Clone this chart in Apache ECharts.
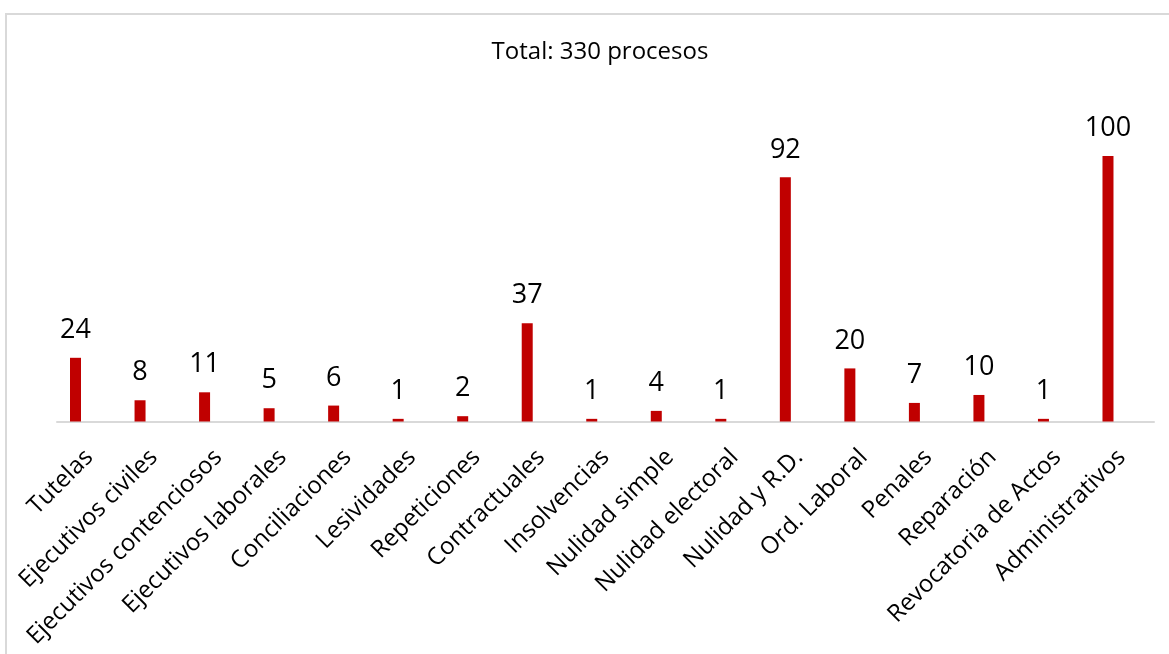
<!DOCTYPE html>
<html>
<head>
<meta charset="utf-8">
<script src="https://cdn.jsdelivr.net/npm/echarts@6/dist/echarts.min.js"></script>
<style>
  html, body { margin: 0; padding: 0; background: #ffffff; }
  #chart { width: 1169px; height: 654px; }
</style>
</head>
<body>
<div id="chart"></div>
<script>
// Procesos por tipo
const categories = [
  'Tutelas', 'Ejecutivos civiles', 'Ejecutivos contenciosos', 'Ejecutivos laborales',
  'Conciliaciones', 'Lesividades', 'Repeticiones', 'Contractuales', 'Insolvencias',
  'Nulidad simple', 'Nulidad electoral', 'Nulidad y R.D.', 'Ord. Laboral', 'Penales',
  'Reparación', 'Revocatoria de Actos', 'Administrativos'
];
const procesos = [24, 8, 11, 5, 6, 1, 2, 37, 1, 4, 1, 92, 20, 7, 10, 1, 100];
// second (empty) series slot of the clustered layout
const vacio = categories.map(() => null);
const titulo = 'Total: 330 procesos';

const FONT = '"Open Sans", Lato, sans-serif';
const chart = echarts.init(document.getElementById('chart'), null, { renderer: 'canvas' });

chart.setOption({
  animation: false,
  backgroundColor: '#ffffff',
  title: {
    text: titulo,
    left: 595,
    top: 35,
    textAlign: 'center',
    textStyle: { fontFamily: FONT, fontSize: 24, fontWeight: 'normal', color: '#000000' }
  },
  graphic: [{
    type: 'rect',
    silent: true,
    shape: { x: 6, y: 14, width: 1300, height: 800 },
    style: { fill: 'none', stroke: '#d9d9d9', lineWidth: 2 }
  }],
  grid: { left: 57, right: 15, top: 103, bottom: 232.5, containLabel: false },
  xAxis: {
    type: 'category',
    data: categories,
    axisLine: { show: true, lineStyle: { color: '#d9d9d9', width: 2 } },
    axisTick: { show: false },
    axisLabel: {
      interval: 0,
      rotate: 45,
      margin: 32,
      fontFamily: FONT,
      fontSize: 24,
      color: '#000000'
    }
  },
  yAxis: {
    type: 'value',
    min: 0,
    max: 120,
    show: false,
    splitLine: { show: false }
  },
  series: [
    {
      name: 'Procesos',
      type: 'bar',
      data: procesos,
      barWidth: 11,
      barGap: '150%',
      itemStyle: { color: '#C00000' },
      label: {
        show: true,
        position: 'top',
        distance: 14,
        fontFamily: FONT,
        fontSize: 27,
        color: '#000000'
      }
    },
    {
      name: '',
      type: 'bar',
      data: vacio,
      barWidth: 11,
      itemStyle: { color: '#C00000' }
    }
  ]
});
</script>
</body>
</html>
